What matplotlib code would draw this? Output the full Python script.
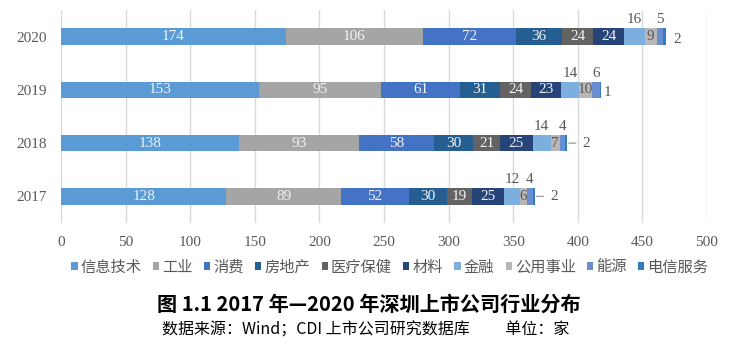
import matplotlib
matplotlib.use("Agg")
import matplotlib.pyplot as plt
from matplotlib.patches import Patch
import numpy as np

plt.rcParams['font.family'] = ['Liberation Serif', 'Noto Sans CJK SC', 'DejaVu Sans']

years = ["2017", "2018", "2019", "2020"]
sectors = ["信息技术", "工业", "消费", "房地产", "医疗保健", "材料", "金融", "公用事业", "能源", "电信服务"]
it_vals = [128, 138, 153, 174]
ind_vals = [89, 93, 95, 106]
cons_vals = [52, 58, 61, 72]
re_vals = [30, 30, 31, 36]
health_vals = [19, 21, 24, 24]
mat_vals = [25, 25, 23, 24]
fin_vals = [12, 14, 14, 16]
util_vals = [6, 7, 10, 9]
energy_vals = [4, 4, 6, 5]
tel_vals = [2, 2, 1, 2]

series = [it_vals, ind_vals, cons_vals, re_vals, health_vals, mat_vals,
          fin_vals, util_vals, energy_vals, tel_vals]
colors = ["#5B9BD5", "#A5A5A5", "#4472C4", "#255E91", "#636363", "#264478",
          "#7CAFDD", "#B7B7B7", "#698ED0", "#327DC2"]

fig = plt.figure(figsize=(7.4, 3.56), dpi=100)
ax = fig.add_axes([61/740, 1-223/356, (707-61)/740, 213/356])

y = np.arange(len(years))
left = np.zeros(len(years))
bar_h = 0.31
num_font = 'Liberation Serif'
for si, (vals, col) in enumerate(zip(series, colors)):
    vals = np.array(vals, dtype=float)
    ax.barh(y, vals, left=left, height=bar_h, color=col, zorder=3)
    for yi in range(len(years)):
        v = vals[yi]
        cx = left[yi] + v / 2
        if si <= 5:
            ax.text(cx, y[yi], f"{int(v)}", ha='center', va='center', color='#F2F2F2',
                    fontsize=11, family=num_font, zorder=4)
        elif si == 7:
            ax.text(cx, y[yi], f"{int(v)}", ha='center', va='center', color='#595959',
                    fontsize=11, family=num_font, zorder=4)
        elif si in (6, 8):
            ax.annotate(f"{int(v)}", (cx, y[yi]), xytext=(0, 12), textcoords='offset points',
                        ha='center', va='center', color='#595959', fontsize=11,
                        family=num_font, zorder=4)
        else:
            end = left[yi] + v
            if yi <= 1:
                ax.annotate(f"{int(v)}", (end, y[yi]), xytext=(11, 0), textcoords='offset points',
                            ha='left', va='center', color='#595959', fontsize=11,
                            family=num_font, zorder=4,
                            arrowprops=dict(arrowstyle='-', color='#A6A6A6', lw=1,
                                            relpos=(0, 0.5), shrinkA=3, shrinkB=1))
            else:
                off = 8 if yi == 3 else 4.5
                ax.annotate(f"{int(v)}", (end, y[yi]), xytext=(off, -2), textcoords='offset points',
                            ha='center', va='center', color='#595959', fontsize=11,
                            family=num_font, zorder=4)
    left += vals

ax.set_xlim(0, 500)
ax.set_ylim(-0.5, 3.5)
ax.set_xticks(np.arange(0, 501, 50))
ax.set_yticks(y)
ax.set_yticklabels(years)
ax.tick_params(axis='both', length=0, labelsize=11, colors='#595959')
ax.tick_params(axis='x', pad=9)
ax.tick_params(axis='y', pad=10)
for lab in ax.get_xticklabels() + ax.get_yticklabels():
    lab.set_family(num_font)
ax.grid(axis='x', color='#D9D9D9', lw=1, zorder=0)
for s in ax.spines.values():
    s.set_visible(False)

handles = [Patch(facecolor=c, edgecolor='none') for c in colors]
fig.legend(handles, sectors, loc='center', bbox_to_anchor=(390/740, 1-267/356), ncol=10,
           frameon=False, prop={'family': 'Noto Sans CJK SC', 'size': 11},
           handlelength=0.4, handleheight=0.4, handletextpad=0.2, columnspacing=0.75,
           labelcolor='#595959', borderpad=0, borderaxespad=0)

fig.text(369/740, 1-304/356, "图 1.1 2017 年—2020 年深圳上市公司行业分布", ha='center', va='center',
         fontsize=14.5, fontweight='bold', family='Noto Sans CJK SC', color='#000000')
fig.text(366/740, 1-330/356, "数据来源：Wind；CDI 上市公司研究数据库　　 单位：家", ha='center', va='center',
         fontsize=11.5, family='Noto Sans CJK SC', color='#000000')

fig.savefig("out.png", dpi=100)
